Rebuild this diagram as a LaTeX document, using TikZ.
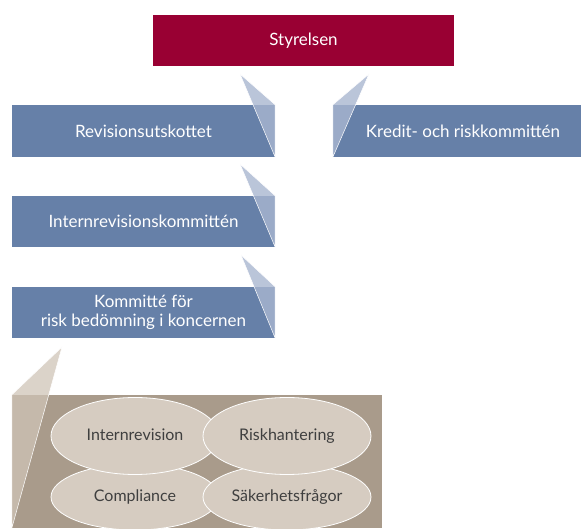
\documentclass[tikz,border=0pt]{standalone}
\usepackage{fontspec}
\setmainfont{Lato}
\usetikzlibrary{shapes.geometric}
\definecolor{styred}{HTML}{990033}
\definecolor{boxblue}{HTML}{6680A8}
\definecolor{wedgeblu}{HTML}{A9B6D0}
\definecolor{tanbox}{HTML}{A99B8B}
\definecolor{tanell}{HTML}{D6CCC1}
\definecolor{tanwedge}{HTML}{CFC4B7}
\definecolor{elltext}{HTML}{3F3F3F}
\begin{document}
\begin{tikzpicture}[x=1pt,y=-1pt,
  orgbox/.style={rectangle, fill=boxblue, minimum height=51pt, minimum width=263pt,
    inner sep=0pt, text=white, align=center, font=\fontsize{17}{19}\selectfont},
  wedgeB/.style={fill=wedgeblu, fill opacity=0.8, draw=white, line width=0.5pt},
  wedgeT/.style={fill=tanwedge, fill opacity=0.75, draw=white, line width=0.5pt},
  oval/.style={ellipse, fill=tanell, draw=white, line width=0.8pt, inner sep=0pt,
    minimum width=168pt, text=elltext, text height=12pt, text depth=3pt,
    font=\fontsize{16}{18}\selectfont}]
\useasboundingbox (0,0) rectangle (582,529);
% boxes
\node[orgbox, fill=styred, minimum width=301pt] (sty) at (303.5,40.5) {Styrelsen};
\node[orgbox, minimum height=52pt] (rev) at (143.5,131) {Revisionsutskottet};
\node[orgbox, minimum height=52pt, minimum width=248pt] (kred) at (457,131)
  {\hspace*{12pt}Kredit- och riskkommittén};
\node[orgbox] (intk) at (143.5,221.5) {Internrevisionskommittén};
\node[orgbox] (komm) at (143.5,312.5) {Kommitté för\\risk bedömning i koncernen};
\node[rectangle, fill=tanbox, minimum width=370pt, minimum height=133pt, inner sep=0pt]
  (grp) at (197,461.5) {};
% callout wedges
\coordinate (a1) at (240,74);
\coordinate (a2) at (369,74);
\coordinate (a3) at (240,164);
\coordinate (a4) at (241,255);
\coordinate (a5) at (62,347);
\path[wedgeB] (a1) -- (rev.north east) -- (rev.south east) -- cycle;
\path[wedgeB] (a2) -- (kred.north west) -- (kred.south west) -- cycle;
\path[wedgeB] (a3) -- (intk.north east) -- (intk.south east) -- cycle;
\path[wedgeB] (a4) -- (komm.north east) -- (komm.south east) -- cycle;
\path[wedgeT] (a5) -- (grp.north west) -- (grp.south west) -- cycle;
% ellipses
\begin{scope}
\clip (grp.north west) rectangle (grp.south east);
\node[oval, minimum height=66pt] (comp) at (135,497) {Compliance};
\node[oval, minimum height=66pt] (sak) at (287,497) {Säkerhetsfrågor};
\node[oval, minimum height=77pt] (intr) at (135,436) {Internrevision};
\node[oval, minimum height=77pt] (riskh) at (287,436) {Riskhantering};
\end{scope}
\end{tikzpicture}
\end{document}
